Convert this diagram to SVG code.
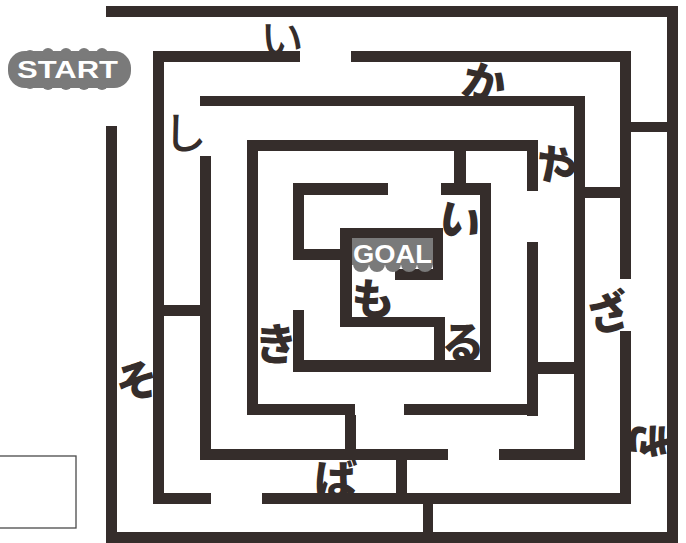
<svg xmlns="http://www.w3.org/2000/svg" width="686" height="543" viewBox="0 0 686 543">
<style>
.w{fill:#352d2b}
.k{font-family:"Noto Sans CJK JP",sans-serif;font-weight:900;font-size:43px;fill:#352d2b;text-anchor:middle;dominant-baseline:central}
.r{font-weight:500}
.lab{font-family:"Liberation Sans",Arial,sans-serif;font-weight:700;fill:#ffffff}
.g{fill:#7a7a7a}
</style>
<rect width="686" height="543" fill="#ffffff"/>
<g id="maze">
<rect class="w" x="106" y="6" width="572" height="11"/>
<rect class="w" x="667" y="6" width="11" height="537"/>
<rect class="w" x="106" y="532" width="572" height="11"/>
<rect class="w" x="106" y="126" width="11" height="417"/>
<rect class="w" x="631" y="122" width="36" height="10"/>
<rect class="w" x="153" y="51" width="147" height="11"/>
<rect class="w" x="351" y="51" width="280" height="11"/>
<rect class="w" x="620" y="51" width="11" height="228"/>
<rect class="w" x="620" y="331" width="11" height="173"/>
<rect class="w" x="153" y="493" width="58" height="11"/>
<rect class="w" x="262" y="493" width="369" height="11"/>
<rect class="w" x="153" y="51" width="11" height="453"/>
<rect class="w" x="423" y="504" width="10" height="28"/>
<rect class="w" x="396" y="460" width="11" height="33"/>
<rect class="w" x="200" y="96" width="385" height="10"/>
<rect class="w" x="200" y="156" width="11" height="304"/>
<rect class="w" x="164" y="305" width="36" height="11"/>
<rect class="w" x="574" y="96" width="11" height="364"/>
<rect class="w" x="585" y="187" width="35" height="11"/>
<rect class="w" x="200" y="449" width="248" height="11"/>
<rect class="w" x="499" y="449" width="86" height="11"/>
<rect class="w" x="247" y="140" width="291" height="11"/>
<rect class="w" x="247" y="140" width="11" height="275"/>
<rect class="w" x="247" y="404" width="108" height="11"/>
<rect class="w" x="404" y="404" width="134" height="11"/>
<rect class="w" x="527" y="140" width="11" height="51"/>
<rect class="w" x="527" y="242" width="11" height="174"/>
<rect class="w" x="345" y="415" width="11" height="34"/>
<rect class="w" x="538" y="362" width="36" height="12"/>
<rect class="w" x="454" y="151" width="12" height="32"/>
<rect class="w" x="293" y="183" width="95" height="12"/>
<rect class="w" x="441" y="183" width="50" height="12"/>
<rect class="w" x="480" y="183" width="11" height="189"/>
<rect class="w" x="293" y="360" width="198" height="12"/>
<rect class="w" x="293" y="183" width="11" height="77"/>
<rect class="w" x="293" y="310" width="11" height="62"/>
<rect class="w" x="293" y="249" width="59" height="11"/>
<rect class="w" x="340" y="228" width="103" height="12"/>
<rect class="w" x="340" y="228" width="12" height="99"/>
<rect class="w" x="433" y="228" width="10" height="52"/>
<rect class="w" x="395" y="269" width="48" height="11"/>
<rect class="w" x="340" y="317" width="105" height="10"/>
<rect class="w" x="434" y="317" width="11" height="55"/>
</g>
<g id="start">
<rect class="g" x="8" y="51" width="123" height="37" rx="17"/>
<circle class="g" cx="30" cy="56" r="6"/>
<circle class="g" cx="48" cy="54" r="6"/>
<circle class="g" cx="66" cy="54" r="6"/>
<circle class="g" cx="84" cy="54" r="6"/>
<circle class="g" cx="102" cy="54" r="6"/>
<circle class="g" cx="30" cy="83" r="6"/>
<circle class="g" cx="48" cy="84" r="6"/>
<circle class="g" cx="66" cy="84" r="6"/>
<circle class="g" cx="84" cy="84" r="6"/>
<circle class="g" cx="102" cy="84" r="6"/>
<text class="lab" x="17" y="78" font-size="23" textLength="101" lengthAdjust="spacingAndGlyphs">START</text>
</g>
<g id="goal">
<rect class="g" x="352" y="238" width="81" height="27"/>
<circle class="g" cx="361" cy="264" r="8"/>
<circle class="g" cx="377" cy="264" r="8"/>
<circle class="g" cx="393" cy="264" r="8"/>
<circle class="g" cx="409" cy="264" r="8"/>
<circle class="g" cx="425" cy="264" r="8"/>
<text class="lab" x="353" y="263" font-size="25" textLength="79" lengthAdjust="spacingAndGlyphs">GOAL</text>
</g>
<rect id="box" x="-1" y="456" width="77" height="72" fill="none" stroke="#4a4a4a" stroke-width="1.3"/>
<g id="letters">
<text class="k r" x="282" y="36">い</text>
<text class="k r" x="185" y="130">し</text>
<text class="k" transform="translate(485,80) rotate(15)">か</text>
<text class="k" transform="translate(557,163) rotate(30)">や</text>
<text class="k" transform="translate(608,310) rotate(-15)">ざ</text>
<text class="k" transform="translate(652,441) rotate(90)">き</text>
<text class="k" transform="translate(461,218) rotate(15)">い</text>
<text class="k" x="373" y="296">も</text>
<text class="k" x="463" y="340">る</text>
<text class="k" x="276" y="341">き</text>
<text class="k" transform="translate(136,378) rotate(-15)">そ</text>
<text class="k" x="336" y="477">ば</text>
</g>
</svg>
